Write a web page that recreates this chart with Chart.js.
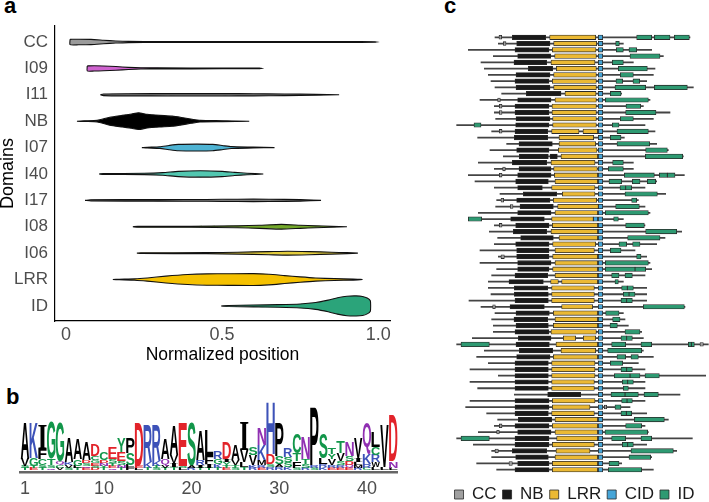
<!DOCTYPE html>
<html><head><meta charset="utf-8">
<script src="https://cdn.jsdelivr.net/npm/chart.js@4.4.1/dist/chart.umd.min.js"></script>
<style>
html,body{margin:0;padding:0;width:709px;height:502px;overflow:hidden;background:#fff;}
canvas{position:absolute;}
.lbl{position:absolute;font:bold 22px "Liberation Sans",Arial,sans-serif;line-height:22px;color:#000;}
</style></head><body>
<div class="lbl" style="left:4px;top:-5px">a</div>
<div class="lbl" style="left:6px;top:386px">b</div>
<div class="lbl" style="left:444px;top:-5px">c</div>
<canvas id="ca" width="400" height="375" style="left:0;top:0"></canvas>
<canvas id="cb" width="410" height="112" style="left:0;top:390px"></canvas>
<canvas id="cc" width="269" height="513" style="left:440px;top:0"></canvas>
<script>
// ---------- Panel a: violin data (x = normalized position, w = half width in category units) ----------
const domains = ['CC','I09','I11','NB','I07','I40','I17','I08','I06','LRR','ID'];
const xTicks = [0, 0.5, 1];
const xTickLabels = ['0', '0.5', '1.0'];
const violinCC  = [[0.013,0.10],[0.04,0.105],[0.08,0.098],[0.12,0.068],[0.16,0.038],[0.2,0.022],[0.3,0.018],[0.6,0.017],[0.9,0.016],[0.99,0.01],[0.995,0]];
const violinI09 = [[0.068,0.095],[0.09,0.1],[0.12,0.092],[0.16,0.07],[0.2,0.04],[0.24,0.022],[0.3,0.018],[0.5,0.016],[0.62,0.01],[0.625,0]];
const violinI11 = [[0.11,0],[0.12,0.03],[0.2,0.04],[0.35,0.045],[0.5,0.045],[0.6,0.04],[0.7,0.03],[0.8,0.02],[0.875,0]];
const violinNB  = [[0.035,0],[0.06,0.012],[0.1,0.03],[0.14,0.15],[0.18,0.22],[0.21,0.27],[0.232,0.315],[0.26,0.26],[0.3,0.22],[0.34,0.19],[0.37,0.14],[0.4,0.08],[0.43,0.03],[0.5,0.018],[0.587,0]];
const violinI07 = [[0.243,0],[0.26,0.015],[0.3,0.03],[0.33,0.08],[0.36,0.12],[0.42,0.13],[0.47,0.12],[0.5,0.08],[0.53,0.035],[0.6,0.018],[0.668,0]];
const violinI40 = [[0.106,0],[0.12,0.015],[0.25,0.025],[0.31,0.05],[0.36,0.1],[0.43,0.12],[0.5,0.1],[0.54,0.06],[0.58,0.03],[0.632,0]];
const violinI17 = [[0.061,0],[0.08,0.025],[0.3,0.03],[0.45,0.035],[0.55,0.045],[0.65,0.045],[0.75,0.03],[0.817,0]];
const violinI08 = [[0.214,0],[0.23,0.015],[0.4,0.02],[0.55,0.035],[0.62,0.06],[0.69,0.09],[0.75,0.06],[0.8,0.035],[0.85,0.02],[0.9,0]];
const violinI06 = [[0.227,0],[0.24,0.012],[0.45,0.02],[0.55,0.035],[0.65,0.06],[0.71,0.075],[0.78,0.06],[0.85,0.035],[0.9,0.02],[0.935,0]];
const violinLRR = [[0.15,0],[0.17,0.01],[0.22,0.025],[0.26,0.06],[0.32,0.13],[0.39,0.19],[0.45,0.215],[0.52,0.22],[0.6,0.225],[0.65,0.2],[0.7,0.15],[0.75,0.1],[0.8,0.06],[0.86,0.035],[0.92,0.02],[0.95,0]];
const violinID  = [[0.497,0],[0.52,0.02],[0.6,0.035],[0.68,0.05],[0.75,0.075],[0.8,0.13],[0.84,0.22],[0.87,0.31],[0.9,0.37],[0.93,0.38],[0.95,0.36],[0.965,0.3],[0.975,0.2],[0.976,0]];
const violins = [violinCC,violinI09,violinI11,violinNB,violinI07,violinI40,violinI17,violinI08,violinI06,violinLRR,violinID];
const violinColors = ['#9a9a9a','#cf63cf','#7a7a7a','#000000','#4eb3d3','#52c7b0','#7a7a7a','#73a82a','#e3cc3d','#f5c100','#2ba47a'];

// ---------- Panel b: sequence logo (letters bottom->top, heights) ----------
const logoPositions = ['1','2','3','4','5','6','7','8','9','10','11','12','13','14','15','16','17','18','19','20','21','22','23','24','25','26','27','28','29','30','31','32','33','34','35','36','37','38','39','40','41','42','43'];
const logoTickLabels = ['1','10','20','30','40'];
const logoLetters = ['TSVA','ETGK','TSCFI','QSTG','VCQG','SVKA','TLGA','EQSDA','DSEGCD','TYNDC',
  'QETSE','TNSEY','FLSP','LED','TKR','STKR','TVQA','TIVA','LSE','RAS',
  'TIRA','TIFL','TKGR','ETYID','STVA','TLVI','RKVS','ERMKN','RSDH','RASP',
  'KSSR','SFTC','RSTN','SRP','KRLS','ERVYT','ERSVT','EQDSN','RMLIV','CRKQ',
  'LWRCL','LV','LND'];
const logoHeights = [[2,2,7,36],[2,2,8,35],[2,3,6,10,24],[2,3,6,37],[2,3,3,40],[2,3,3,24],[2,2,7,21],[2,2,3,3,18],[2,2,3,3,4,11],[2,2,3,3,8],
  [2,2,3,4,11],[2,3,4,9,14],[3,2,12,16],[2,2,43],[2,6,37],[2,2,5,36],[2,3,6,21],[3,4,8,30],[2,2,43],[2,2,44],
  [2,3,5,30],[2,4,8,26],[2,4,5,8],[2,2,4,3,16],[2,3,5,15],[3,5,12,28],[2,3,10,8],[2,3,5,15,17],[3,3,10,52],[3,3,8,33],
  [3,5,5,9],[2,7,8,20],[2,4,5,22],[2,2,58],[3,3,6,25],[2,3,6,5,7],[2,3,4,8,11],[2,3,4,5,14],[2,3,3,4,20],[2,4,10,32],
  [3,5,7,8,15],[3,42],[2,7,46]];

// ---------- Panel c: domain architectures (70 proteins, positions in residues-scale units) ----------
const rowLine = [[120,705],[130,505],[40,590],[115,625],[78,535],[88,600],[100,595],[108,575],[120,715],[140,500],
 [75,585],[118,565],[118,645],[122,595],[5,570],[110,600],[68,508],[155,605],[105,640],[145,685],
 [70,535],[118,535],[40,688],[60,605],[118,570],[135,632],[125,550],[122,570],[70,585],[40,505],
 [118,570],[103,680],[128,630],[118,605],[75,540],[130,575],[75,585],[125,590],[110,570],[100,505],
 [100,575],[108,575],[42,575],[78,690],[120,505],[110,510],[115,520],[115,560],[52,565],[5,760],
 [88,565],[65,595],[100,550],[45,570],[130,752],[45,570],[68,570],[178,675],[45,570],[32,525],
 [95,575],[128,640],[118,570],[70,580],[5,712],[55,575],[110,665],[110,590],[65,500],[125,595]];
const rowCC = [[1,132,140],[2,145,153],[11,128,136],[12,133,141],[13,133,141],[16,133,141],[22,143,151],[23,133,141],
 [27,138,146],[28,166,174],[31,133,141],[36,138,148],[44,113,121],[50,735,745],[60,448,455],[63,133,141],[64,125,133],[67,120,130],[69,162,172]];
const rowNB = [[[172,272]],[[185,285]],[[180,282]],[[188,287]],[[177,275]],[[220,293]],[[183,285]],[[180,282]],[[183,285]],[[214,318]],
 [[188,288]],[[180,282]],[[180,282]],[[183,285]],[[182,282]],[[180,278]],[[178,278]],[[192,292]],[[185,282]],[[193,280],[285,307]],
 [[172,275]],[[192,288]],[[188,288]],[[182,280]],[[188,262]],[[205,305]],[[185,285]],[[195,295]],[[188,288]],[[167,268]],
 [[182,282]],[[175,275]],[[197,295]],[[182,282]],[[185,282]],[[185,282]],[[188,288]],[[188,282]],[[180,278]],[[162,265]],
 [[178,278]],[[178,280]],[[180,280]],[[165,268]],[[183,283]],[[177,278]],[[183,280]],[[180,282]],[[190,288]],[[183,283]],
 [[193,293]],[[185,285]],[[180,280]],[[180,280]],[[180,280]],[[180,280]],[[180,280]],[[278,377]],[[180,282]],[[180,282]],
 [[180,280]],[[190,290]],[[180,282]],[[188,288]],[[180,282]],[[180,282]],[[172,275]],[[182,280]],[[188,282]],[[180,282]]];
const rowLRR = [[[284,422]],[[296,425]],[[292,423]],[[299,424]],[[288,420]],[[304,424]],[[296,424]],[[292,424]],[[296,424]],[[330,423]],
 [[300,424]],[[291,424]],[[291,424]],[[293,424]],[[293,424]],[[290,372],[384,428]],[[312,416]],[[312,422]],[[310,426]],[[318,428]],
 [[288,420]],[[296,427]],[[298,428]],[[300,428]],[[290,420]],[[322,420]],[[295,425]],[[308,430]],[[300,428]],[[290,415]],
 [[292,428]],[[288,428]],[[312,428]],[[293,422]],[[300,418]],[[293,428]],[[300,428]],[[293,428]],[[300,428]],[[287,310],[320,428]],
 [[290,418]],[[290,418]],[[290,418]],[[320,413]],[[295,428]],[[300,428]],[[295,428]],[[288,424]],[[325,362],[385,422]],[[303,428]],
 [[318,422]],[[295,428]],[[290,420]],[[290,420]],[[290,420]],[[290,418]],[[290,418]],[],[[292,420]],[[292,405]],
 [[290,418]],[[300,428]],[[292,428]],[[300,428]],[[305,428]],[[292,418]],[[303,405]],[[300,428]],[[292,428]],[[292,428]]];
const rowCID = [[[430,443]],[[430,443]],[[430,443]],[[430,443]],[[430,443]],[[430,443]],[[430,443]],[[430,443]],[[430,443]],[[430,443]],
 [[430,443]],[[430,443]],[[430,443]],[[430,443]],[[430,443]],[[430,443]],[[430,443]],[[430,443]],[[430,443]],[[430,443]],
 [[430,443]],[[430,443]],[[430,443]],[[430,443]],[[430,443]],[[430,443]],[[430,443]],[[430,443]],[[430,443]],[[430,443],[415,428]],
 [[430,443]],[[430,443]],[[430,443]],[[430,443]],[[430,443]],[[430,443]],[[430,443]],[[430,443]],[[430,443]],[[430,443]],
 [[430,443]],[[430,443]],[[430,443]],[[430,443]],[[430,443]],[[430,443]],[[430,443]],[[430,443]],[[430,443]],[[430,443]],
 [[430,443]],[[430,443]],[[430,443]],[[430,443]],[[430,443]],[[430,443]],[[430,443]],[[430,443]],[[430,443]],[[430,443]],
 [[430,443]],[[430,443]],[[430,443]],[[430,443]],[[430,443]],[[430,443]],[[430,443]],[[430,443]],[[430,443]],[[430,443]]];
const rowID = [[[545,590],[598,645],[658,703]],[[482,493]],[[484,505],[522,545]],[[525,615]],[[472,505]],[[490,577]],[[496,535]],[[483,503],[534,554]],[[480,572],[598,697]],[[466,498]],
 [[451,580]],[[513,557]],[[512,603]],[[496,535]],[[57,78],[472,492]],[[486,580]],[[466,498]],[[486,584]],[[572,637]],[[571,683]],
 [[473,505]],[[460,505]],[[508,598],[613,637],[637,660]],[[462,500],[532,555],[577,602]],[[495,512],[512,530]],[[510,607]],[[530,545]],[[482,553]],[[451,580]],[[40,80],[476,490]],
 [[512,568]],[[572,665]],[[518,615]],[[492,515],[533,555]],[[466,498]],[[545,558]],[[451,580]],[[451,540],[540,572]],[[470,492],[510,532]],[[480,490]],
 [[500,517],[517,535]],[[505,522],[522,540]],[[498,515],[515,532]],[[565,688]],[[452,492]],[[473,495]],[[465,487]],[[510,555]],[[498,515],[515,532]],[[18,103],[470,512],[558,590],[700,709],[709,718]],
 [[458,560]],[[486,512],[528,550]],[[466,503]],[[498,515],[515,532]],[[478,525],[525,555],[570,613]],[[502,518],[518,535]],[[505,520]],[[468,510],[510,550],[567,610]],[[500,516],[516,532]],[[480,498]],
 [[498,514],[514,530]],[[538,628]],[[512,560]],[[450,578]],[[18,103],[470,512],[558,590]],[[502,518],[518,535]],[[528,655]],[[522,587]],[[462,492]],[[460,560]]];

Chart.defaults.font.family = '"Liberation Sans", Arial, Helvetica, sans-serif';
Chart.defaults.animation = false;

// ---------- Panel a ----------
function violinPolygon(v, c) {
  const top = v.map(([x, w]) => ({x: x, y: c - w}));
  const bot = v.slice().reverse().map(([x, w]) => ({x: x, y: c + w}));
  return top.concat(bot, [top[0]]);
}
new Chart(document.getElementById('ca'), {
  type: 'line',
  data: {
    datasets: violins.map((v, i) => ({
      data: violinPolygon(v, i + 1),
      fill: 'shape',
      backgroundColor: violinColors[i],
      borderColor: '#111',
      borderWidth: 1.1,
      pointRadius: 0,
      tension: 0.2
    }))
  },
  options: {
    responsive: false,
    layout: {padding: {left: 0, top: 26, right: 10, bottom: 0}},
    plugins: {legend: {display: false}, tooltip: {enabled: false}},
    scales: {
      x: {
        type: 'linear', min: -0.0353, max: 1.038,
        afterBuildTicks: s => { s.ticks = xTicks.map(v => ({value: v})); },
        afterFit: s => { s.height = 54; },
        ticks: {callback: v => xTickLabels[xTicks.indexOf(v)], color: '#4d4d4d', font: {size: 18}, padding: 3, maxRotation: 0, autoSkip: false},
        grid: {display: false, drawTicks: false},
        border: {display: true, color: '#000', width: 1.2},
        title: {display: true, text: 'Normalized position', color: '#000', font: {size: 17.5}, padding: {top: 0, bottom: 9}}
      },
      y: {
        type: 'linear', reverse: true, min: 0.394, max: 11.57,
        afterBuildTicks: s => { s.ticks = domains.map((d, i) => ({value: i + 1})); },
        afterFit: s => { s.width = 55; },
        ticks: {callback: v => domains[v - 1], color: '#4d4d4d', font: {size: 17}, padding: 7, autoSkip: false},
        grid: {display: false, drawTicks: false},
        border: {display: true, color: '#000', width: 1.2},
        title: {display: true, text: 'Domains', color: '#000', font: {size: 18, lineHeight: 0.85}, padding: 0}
      }
    }
  }
});

// ---------- Panel b ----------
function letterColor(ch) {
  if ('GSTYC'.includes(ch)) return '#12964a';
  if ('KRH'.includes(ch)) return '#3d52b8';
  if ('DE'.includes(ch)) return '#e2232a';
  if ('QN'.includes(ch)) return '#9030b2';
  return '#000';
}
const logoPlugin = {
  id: 'logoLetters',
  afterDatasetsDraw(chart) {
    const ctx = chart.ctx;
    chart.data.datasets.forEach((ds, k) => {
      const meta = chart.getDatasetMeta(k);
      meta.data.forEach((el, i) => {
        const ch = logoLetters[i][k];
        if (!ch) return;
        const p = el.getProps(['x', 'y', 'base', 'width'], true);
        const h = p.base - p.y;
        if (h < 0.5) return;
        ctx.save();
        ctx.font = ch === 'I' ? 'bold 100px "Liberation Serif", "DejaVu Serif", serif' : 'bold 100px "Liberation Sans", Arial, sans-serif';
        ctx.textAlign = 'left';
        ctx.textBaseline = 'alphabetic';
        const m = ctx.measureText(ch);
        const gw = m.actualBoundingBoxLeft + m.actualBoundingBoxRight;
        const gh = m.actualBoundingBoxAscent + m.actualBoundingBoxDescent;
        ctx.translate(p.x - p.width / 2, p.y);
        ctx.scale(p.width / gw, h / gh);
        ctx.fillStyle = letterColor(ch);
        ctx.fillText(ch, m.actualBoundingBoxLeft, m.actualBoundingBoxAscent);
        ctx.restore();
      });
    });
  }
};
const logoDatasets = [0, 1, 2, 3, 4, 5].map(k => ({
  data: logoHeights.map(h => h[k] || 0),
  backgroundColor: 'rgba(0,0,0,0)',
  borderWidth: 0,
  barPercentage: 0.96,
  categoryPercentage: 1
}));
new Chart(document.getElementById('cb'), {
  type: 'bar',
  data: {labels: logoPositions, datasets: logoDatasets},
  plugins: [logoPlugin],
  options: {
    responsive: false,
    layout: {padding: {left: 20.6, right: 12.3, top: 10, bottom: 0}},
    plugins: {legend: {display: false}, tooltip: {enabled: false}},
    scales: {
      x: {
        stacked: true,
        afterFit: s => { s.height = 29.5; },
        ticks: {
          callback: function (v) { const l = this.getLabelForValue(v); return logoTickLabels.includes(l) ? l : ''; },
          color: '#4d4d4d', font: {size: 18}, padding: 6, maxRotation: 0, autoSkip: false
        },
        grid: {display: false, drawTicks: false},
        border: {display: true, color: '#666', width: 2.5}
      },
      y: {stacked: true, display: false, min: -2.5, max: 70}
    }
  }
});

// ---------- Panel c ----------
function slotData(rows, k) {
  const out = [];
  rows.forEach((segs, r) => { if (segs[k]) out.push({x: segs[k], y: r + 1}); });
  return out;
}
const boxStyle = {barThickness: 4.5, borderWidth: 0.8, borderColor: '#2a2a2a', borderSkipped: false, grouped: false, order: 0};
const colCC = '#a0a0a0', colNB = '#1a1a1a', colLRR = '#ebb934', colCID = '#45a5d8', colID = '#2e9a72';
const archDatasets = [
  Object.assign({label: 'CC', data: rowCC.map(([r, s, e]) => ({x: [s, e], y: r})), backgroundColor: colCC}, boxStyle, {barThickness: 3.8}),
  Object.assign({label: 'NB', data: slotData(rowNB, 0), backgroundColor: colNB}, boxStyle),
  Object.assign({label: 'LRR', data: slotData(rowLRR, 0), backgroundColor: colLRR}, boxStyle),
  Object.assign({label: 'CID', data: slotData(rowCID, 0), backgroundColor: colCID}, boxStyle),
  Object.assign({label: 'ID', data: slotData(rowID, 0), backgroundColor: colID}, boxStyle),
  Object.assign({label: '', data: slotData(rowNB, 1), backgroundColor: colNB}, boxStyle),
  Object.assign({label: '', data: slotData(rowLRR, 1), backgroundColor: colLRR}, boxStyle),
  Object.assign({label: '', data: slotData(rowCID, 1), backgroundColor: colCID}, boxStyle),
  Object.assign({label: '', data: slotData(rowID, 1), backgroundColor: colID}, boxStyle),
  Object.assign({label: '', data: slotData(rowID, 2), backgroundColor: colID}, boxStyle),
  Object.assign({label: '', data: slotData(rowID, 3), backgroundColor: colID}, boxStyle),
  Object.assign({label: '', data: slotData(rowID, 4), backgroundColor: colID}, boxStyle),
  {label: '', data: rowLine.map((s, r) => ({x: s, y: r + 1})), backgroundColor: '#444', borderWidth: 0, barThickness: 1.1, grouped: false, order: 1}
];
new Chart(document.getElementById('cc'), {
  type: 'bar',
  data: {datasets: archDatasets},
  options: {
    responsive: false,
    indexAxis: 'y',
    layout: {padding: {left: 0, top: 30, right: 0, bottom: 0}},
    plugins: {
      tooltip: {enabled: false},
      legend: {
        display: true, position: 'bottom',
        labels: {filter: item => item.text !== '', boxWidth: 9, boxHeight: 9, padding: 6, color: '#1a1a1a', font: {size: 17}}
      }
    },
    scales: {
      x: {type: 'linear', display: false, offset: false, min: -45, max: 762},
      y: {type: 'linear', display: false, offset: false, reverse: true, min: -0.165, max: 71.64}
    }
  }
});
</script>
</body></html>
